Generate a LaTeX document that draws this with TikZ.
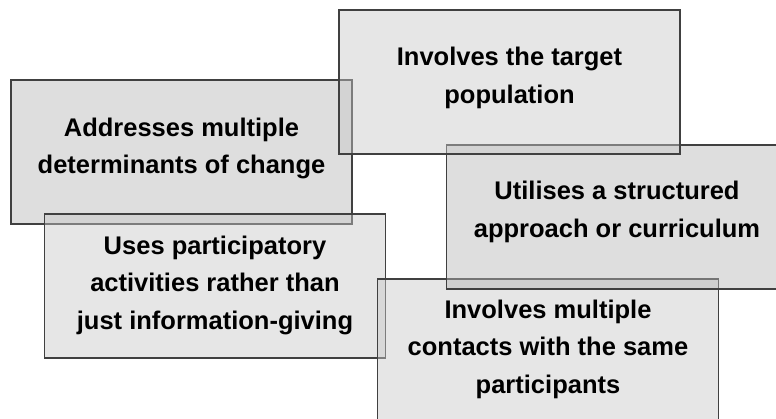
\documentclass[tikz,border=0pt]{standalone}
\usepackage{fontspec}
\setmainfont{Liberation Sans}
\begin{document}
\begin{tikzpicture}[x=1pt,y=-1pt,
  box/.style={draw=edgegray, line width=1.6pt, fill opacity=0.45,
    minimum width=341pt, minimum height=144pt, inner sep=0pt, outer sep=0pt},
  lightbox/.style={box, fill=fillA},
  darkbox/.style={box, fill=fillB},
  txt/.style={align=center, text=black, inner sep=0pt,
    font=\bfseries\fontsize{25.5}{37.5}\selectfont}]
\definecolor{edgegray}{RGB}{64,64,64}
\definecolor{fillA}{RGB}{199,199,199}
\definecolor{fillB}{RGB}{182,182,182}
\useasboundingbox (0,0) rectangle (776,419);
\begin{scope}
\clip (0,0) rectangle (776,419);
% stacked from back to front
\node[darkbox] (b) at (181.5,152) {};
\node[txt] (bt) at ([yshift=3.5pt]b.center) {Addresses multiple\\determinants of change};
\node[lightbox] (d) at (215,286) {};
\node[txt] (dt) at ([yshift=1pt]d.center) {Uses participatory\\activities rather than\\just information-giving};
\node[lightbox] (e) at (548,351) {};
\node[txt] (et) at ([yshift=2pt]e.center) {Involves multiple\\contacts with the same\\participants};
\node[darkbox] (c) at (617,217) {};
\node[txt] (ct) at ([yshift=5pt]c.center) {Utilises a structured\\approach or curriculum};
\node[lightbox] (a) at (509.5,82) {};
\node[txt] (at) at ([yshift=4pt]a.center) {Involves the target\\population};
\end{scope}
\end{tikzpicture}
\end{document}
